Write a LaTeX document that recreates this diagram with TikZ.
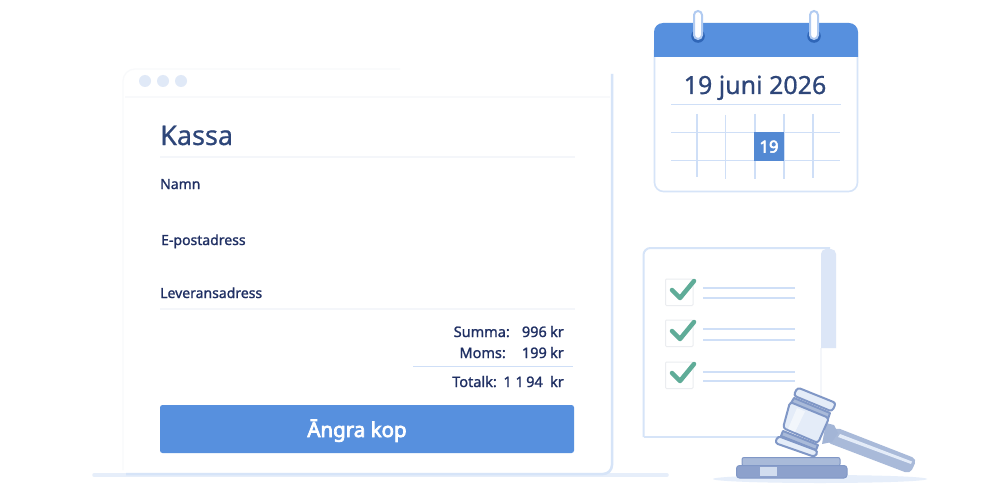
\documentclass[tikz,border=0pt]{standalone}
\usepackage{fontspec}
\setmainfont{Noto Sans}
\newfontfamily\medf[FakeBold=1.2]{Noto Sans}
\newfontfamily\midf[FakeBold=0.7]{Noto Sans}
\newfontfamily\boldf[FakeBold=3.5]{Noto Sans}
\definecolor{ink}{HTML}{1F2F63}
\definecolor{title}{HTML}{2E4679}
\definecolor{brand}{HTML}{5790DE}
\definecolor{brandd}{HTML}{2F66B8}
\definecolor{edge}{HTML}{D6E4F8}
\definecolor{faint}{HTML}{F4F6FA}
\definecolor{fainter}{HTML}{F8F9FB}
\definecolor{rule}{HTML}{CFDFF7}
\definecolor{dotc}{HTML}{E0E9F7}
\definecolor{tab}{HTML}{DCE6F7}
\definecolor{chk}{HTML}{5FAC98}
\definecolor{gavd}{HTML}{8097C6}
\definecolor{gavm}{HTML}{A9BAD9}
\definecolor{gavl}{HTML}{E4ECF8}
\definecolor{ground}{HTML}{E6EEFA}
\tikzset{
  x=1pt,y=-1pt,
  lab/.style={inner sep=0pt,text=ink,font=\medf\fontsize{14}{16}\selectfont,anchor=base west},
  sumr/.style={inner sep=0pt,text=ink,font=\medf\fontsize{14.5}{17}\selectfont,anchor=base east},
  faintline/.style={draw=faint,line width=1.2pt},
  gridl/.style={draw=rule,line width=1.3pt},
  listl/.style={draw=rule,line width=2pt},
  cbox/.style={draw=faint!92!gray,fill=white,line width=1pt},
  tick/.style={draw=chk,line width=4.5pt,line cap=round,line join=round},
  gav/.style={draw=gavd,line width=2pt,line join=round}
}
\begin{document}
\begin{tikzpicture}
\useasboundingbox (0,0) rectangle (1000,484);
\fill[white] (0,0) rectangle (1000,484);
% ground line and window
\draw[draw=ground,line width=3.5pt,line cap=round] (94,475) -- (667,475);
\fill[white,rounded corners=10pt] (123,68) rectangle (612,474);
\draw[draw=fainter,line width=1.2pt,rounded corners=12pt] (123,470) -- (123,69) -- (400,69);
\draw[draw=edge,line width=2.5pt,rounded corners=9pt] (612,74) -- (612,474) -- (126,474);
\draw[draw=fainter,line width=1.2pt] (125,97) -- (610,97);
\foreach \x in {145,163,181} \fill[dotc] (\x,81) circle (6);
% form
\node[inner sep=0pt,text=title,font=\midf\fontsize{27}{30}\selectfont,anchor=base west] (kassa) at (160,145) {Kassa};
\draw[faintline] (160,157) -- (575,157);
\node[lab] (namn) at (160,189) {Namn};
\node[lab] (epost) at (161,245) {E-postadress};
\node[lab] (lev) at (160,298) {Leveransadress};
\draw[faintline] (160,309) -- (575,309);
\node[sumr] (s1) at (510,337) {Summa:};
\node[sumr] (s2) at (547,337) {996};
\node[sumr] (s3) at (564,337) {kr};
\node[sumr] (m1) at (506,358) {Moms:};
\node[sumr] (m2) at (547,358) {199};
\node[sumr] (m3) at (564,358) {kr};
\draw[draw=rule,line width=1.2pt] (413,366.5) -- (573,366.5);
\node[sumr] (t1) at (497,387) {Totalk:};
\node[sumr] (t2) at (543,387) {1 1\,94};
\node[sumr] (t3) at (564,387) {kr};
\fill[brand,rounded corners=2.5pt] (160,405) rectangle (574,453);
\node[inner sep=0pt,text=white,font=\boldf\fontsize{20.5}{24}\selectfont,anchor=base] (btn) at (357,437) {Āngra kop};
% calendar
\fill[white] (654,30) rectangle (858,192);
\draw[draw=edge,line width=1.6pt,rounded corners=9pt] (654.5,50) -- (654.5,191.5) -- (857.5,191.5) -- (857.5,50);
\fill[brand] (654,57) -- (654,32) [rounded corners=9pt] -- (654,23) -- (858,23) [sharp corners] -- (858,57) -- cycle;
\foreach \x in {698,814}{
  \fill[brandd] (\x,36) circle (6.8);
  \draw[draw=rule!75!brand,fill=white,line width=2pt,rounded corners=4pt] (\x-4,11) rectangle (\x+4,39);
}
\node[inner sep=0pt,text=title,font=\midf\fontsize{25}{28}\selectfont,anchor=base] (caltitle) at (755,94) {19 juni 2026};
\draw[gridl] (671,104.5) -- (841,104.5);
\draw[gridl] (671,132.5) -- (840,132.5);
\draw[gridl] (671,160.5) -- (840,160.5);
\foreach \x/\a/\b in {697/114/177,725.5/115/179,755/114/179,784/114/179,813/114/178}
  \draw[gridl] (\x,\a) -- (\x,\b);
\fill[brand!95!black] (754,132) rectangle (784,161);
\node[inner sep=0pt,text=white,font=\boldf\fontsize{16.5}{18}\selectfont,anchor=base] (day) at (769,152.5) {19};
% checklist
\fill[white] (643,247) rectangle (835,437);
\draw[draw=edge,line width=2pt,rounded corners=7pt] (643.5,437) -- (643.5,248) -- (830,248);
\draw[draw=edge,line width=1.6pt] (643.5,437) -- (800,437);
\draw[faintline] (821,348) -- (821,437);
\fill[tab] (821,348) -- (821,255) [rounded corners=5pt] -- (821,249) -- (836,249) [sharp corners] -- (836,348) -- cycle;
\foreach \y/\la/\lb in {279/288/298,320/329/339.5,362/371.5/380.5}{
  \draw[cbox,rounded corners=1pt] (665.5,\y) rectangle (693,\y+26.5);
  \draw[tick] (672,\y+11) -- (680,\y+19) -- (694,\y+2);
  \draw[listl] (703,\la) -- (795,\la);
  \draw[listl] (703,\lb) -- (795,\lb);
}
% gavel
\fill[ground] (820,479) ellipse (107 and 4);
\draw[draw=gavd,fill=gavm,line width=1pt,rounded corners=2pt] (742,457.5) rectangle (840,466);
\draw[draw=gavd,fill=gavd!90,line width=1pt,rounded corners=3pt] (736.5,465.5) rectangle (847,478);
\fill[gavl!70!gavm] (760,467) rectangle (777,475.5);
\fill[gavm,rounded corners=5pt] (835,427) -- (917,459) -- (910,474) -- (826,442) -- cycle;
\fill[gavl] (840,434) -- (912,461.5) -- (911,464) -- (838,437) -- cycle;
\fill[gavm!85!gavd] (826,423) -- (834,425) -- (838,433) -- (832,442) -- (822,444) -- cycle;
\draw[gav,fill=gavl,rounded corners=3pt] (797.5,387.5) -- (836,403) -- (832,411.5) -- (793.5,395.5) -- cycle;
\draw[gav,fill=gavm] (794,398) -- (830,413) -- (828,419) -- (791,403) -- cycle;
\draw[gav,fill=gavl,rounded corners=3pt] (790,402) -- (829,418) -- (818,443) -- (783,428) -- cycle;
\fill[white,opacity=.55] (797,408) -- (805,411.5) -- (795,432) -- (788,429) -- cycle;
\draw[gav,fill=gavm] (783,431) -- (818,445) -- (816,450) -- (781,436) -- cycle;
\draw[gav,fill=gavl,rounded corners=3pt] (778,436) -- (818,451) -- (815,457) -- (775,443) -- cycle;
\end{tikzpicture}
\end{document}
